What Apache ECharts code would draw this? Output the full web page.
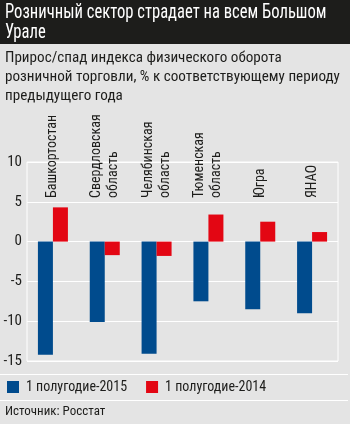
<!DOCTYPE html>
<html><head><meta charset="utf-8">
<script src="https://cdn.jsdelivr.net/npm/echarts@6/dist/echarts.min.js"></script>
<style>html,body{margin:0;padding:0;background:#e4e4e4;}#c{width:350px;height:424px;}</style>
</head><body><div id="c"></div>
<script>
const categories = ['Башкортостан', 'Свердловская\nобласть', 'Челябинская\nобласть', 'Тюменская\nобласть', 'Югра', 'ЯНАО'];
const series2015 = [-14.2, -10.1, -14.1, -7.5, -8.5, -9.0];
const series2014 = [4.3, -1.7, -1.8, 3.4, 2.5, 1.2];
const seriesNames = ['1 полугодие-2015', '1 полугодие-2014'];
const yTicks = [-15, -10, -5, 0, 5, 10];

const FONT = '"Roboto Condensed", "DejaVu Sans Condensed", sans-serif';
const chart = echarts.init(document.getElementById('c'));
chart.setOption({
  backgroundColor: '#e4e4e4',
  animation: false,
  graphic: [
    {type: 'rect', x: 0, y: 0, shape: {width: 350, height: 44}, style: {fill: '#1d1d1b'}, z: 0},
    {type: 'text', x: 5, y: 3, scaleX: 0.81, style: {text: 'Розничный сектор страдает на всем Большом\nУрале', fill: '#fff', font: '20.5px ' + FONT, lineHeight: 20}, z: 1},
    {type: 'text', x: 5, y: 49, scaleX: 1.01, style: {text: 'Прирос/спад индекса физического оборота\nрозничной торговли, % к соответствующему периоду\nпредыдущего года', fill: '#1d1d1b', font: '15px ' + FONT, lineHeight: 19}, z: 1},
    {type: 'line', shape: {x1: 0, y1: 374.5, x2: 348, y2: 374.5}, style: {stroke: '#fff', lineWidth: 1}},
    {type: 'line', shape: {x1: 0, y1: 400.5, x2: 348, y2: 400.5}, style: {stroke: '#fff', lineWidth: 1}},
    {type: 'text', x: 5, y: 405, style: {text: 'Источник: Росстат', fill: '#1d1d1b', font: '13px ' + FONT}, z: 1}
  ],
  legend: {
    left: 7, top: 380, padding: 0, itemWidth: 12, itemHeight: 12, itemGap: 19, icon: 'rect',
    textStyle: {fontFamily: FONT, fontSize: 14, color: '#1d1d1b', padding: [0, 0, 0, 2]},
    data: seriesNames
  },
  grid: {left: 27, right: 12, top: 162, bottom: 63, show: true, borderColor: '#fff', borderWidth: 1, backgroundColor: 'transparent'},
  xAxis: {
    type: 'category', data: categories, position: 'top', offset: -38,
    axisLine: {show: false}, axisTick: {show: false},
    axisLabel: {rotate: 90, fontFamily: FONT, fontSize: 14, color: '#1d1d1b', margin: 2, interval: 0, lineHeight: 17}
  },
  yAxis: {
    type: 'value', min: -15, max: 10, interval: 5,
    axisLine: {show: false}, axisTick: {show: false},
    splitLine: {lineStyle: {color: '#fff', width: 1}},
    axisLabel: {fontFamily: FONT, fontSize: 15, color: '#1d1d1b', margin: 5,
      formatter: v => yTicks.includes(v) ? String(v) : ''}
  },
  series: [
    {name: seriesNames[0], type: 'bar', data: series2015, barWidth: 15, barGap: '0%', itemStyle: {color: '#004b8d'}},
    {name: seriesNames[1], type: 'bar', data: series2014, barWidth: 15, barGap: '0%', itemStyle: {color: '#e30613'}}
  ]
});
</script></body></html>
